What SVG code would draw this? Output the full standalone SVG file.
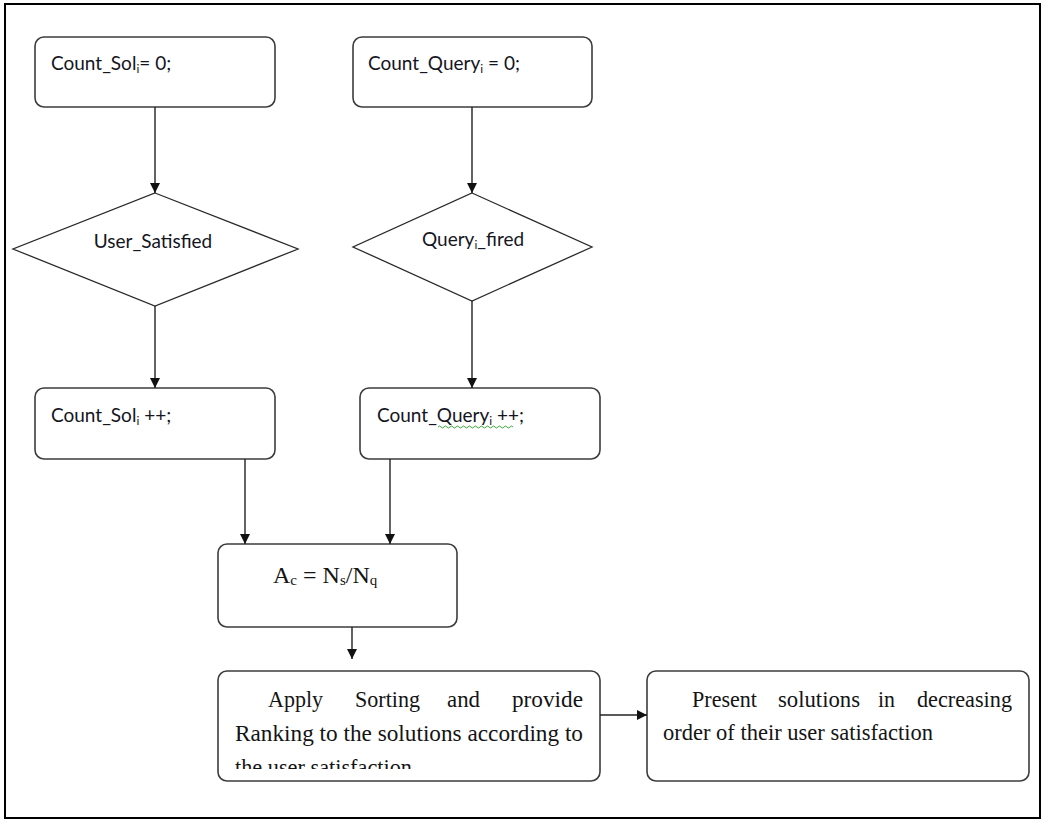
<svg xmlns="http://www.w3.org/2000/svg" width="1045" height="824" viewBox="0 0 1045 824">
  <style>
    .box { fill: #fff; stroke: #3c3c3c; stroke-width: 1.6; }
    .dia { fill: #fff; stroke: #2a2a2a; stroke-width: 1.3; }
    .sans { font-family: Lato, "Open Sans", "Liberation Sans", sans-serif; font-size: 19px; fill: #151522; }
    .sub { font-size: 12px; }
    .serif { font-family: "Liberation Serif", "Times New Roman", serif; font-size: 24px; fill: #141414; }
    .conn line { stroke: #222; stroke-width: 1.4; }
  </style>
  <defs>
    <marker id="arrow" viewBox="0 0 10 10" refX="10" refY="5" markerWidth="10" markerHeight="10" markerUnits="userSpaceOnUse" orient="auto">
      <path d="M0,0 L10,5 L0,10 z" fill="#111"/>
    </marker>
    <clipPath id="clipApply">
      <rect x="218" y="671" width="382" height="98"/>
    </clipPath>
  </defs>

  <rect x="0" y="0" width="1045" height="824" fill="#fff"/>
  <!-- outer frame -->
  <rect x="5" y="4" width="1035" height="814" fill="none" stroke="#000" stroke-width="2"/>

  <g id="count-sol-init">
    <rect class="box" x="35" y="37" width="240" height="70" rx="9"/>
    <text class="sans" x="51" y="70">Count_Sol<tspan class="sub" dy="3">i</tspan><tspan dy="-3">= 0;</tspan></text>
  </g>

  <g id="count-query-init">
    <rect class="box" x="353" y="37" width="239" height="70" rx="9"/>
    <text class="sans" x="368" y="70">Count_Query<tspan class="sub" dy="3">i</tspan><tspan dy="-3"> = 0;</tspan></text>
  </g>

  <g id="user-satisfied">
    <polygon class="dia" points="155,193 298,249 155,306 13,249"/>
    <text class="sans" x="153" y="248" text-anchor="middle">User_Satisfied</text>
  </g>

  <g id="query-fired">
    <polygon class="dia" points="472,193 592,247 472,301 353,247"/>
    <text class="sans" x="422" y="246">Query<tspan class="sub" dy="3">i</tspan><tspan dy="-3">_fired</tspan></text>
  </g>

  <g id="count-sol-inc">
    <rect class="box" x="35" y="388" width="240" height="71" rx="9"/>
    <text class="sans" x="51" y="422">Count_Sol<tspan class="sub" dy="3">i</tspan><tspan dy="-3"> ++;</tspan></text>
  </g>

  <g id="count-query-inc">
    <rect class="box" x="360" y="388" width="240" height="71" rx="9"/>
    <text class="sans" x="377" y="422">Count_Query<tspan class="sub" dy="3">i</tspan><tspan dy="-3"> ++;</tspan></text>
    <path d="M438,427 q1.5,-2 3,0 t3,0 t3,0 t3,0 t3,0 t3,0 t3,0 t3,0 t3,0 t3,0 t3,0 t3,0 t3,0 t3,0 t3,0 t3,0 t3,0 t3,0 t3,0 t3,0 t3,0 t3,0 t3,0 t3,0 t3,0" fill="none" stroke="#3aa63a" stroke-width="1"/>
  </g>

  <g id="accuracy">
    <rect class="box" x="218" y="544" width="239" height="83" rx="9"/>
    <text class="serif" x="273" y="583">A<tspan font-size="15" dy="2">c</tspan><tspan dy="-2"> = N</tspan><tspan font-size="15" dy="2">s</tspan><tspan dy="-2">/N</tspan><tspan font-size="15" dy="2">q</tspan></text>
  </g>

  <g id="apply-sorting">
    <rect class="box" x="218" y="671" width="382" height="110" rx="9"/>
    <g clip-path="url(#clipApply)">
      <text class="serif" x="268" y="707" textLength="55" lengthAdjust="spacingAndGlyphs">Apply</text>
      <text class="serif" x="355" y="707" textLength="65" lengthAdjust="spacingAndGlyphs">Sorting</text>
      <text class="serif" x="447" y="707" textLength="33" lengthAdjust="spacingAndGlyphs">and</text>
      <text class="serif" x="512" y="707" textLength="71" lengthAdjust="spacingAndGlyphs">provide</text>
      <text class="serif" x="235" y="741" textLength="348" lengthAdjust="spacingAndGlyphs">Ranking to the solutions according to</text>
      <text class="serif" x="235" y="775" textLength="177" lengthAdjust="spacingAndGlyphs">the user satisfaction</text>
    </g>
  </g>

  <g id="present-solutions">
    <rect class="box" x="647" y="671" width="382" height="110" rx="9"/>
    <text class="serif" x="692" y="707" textLength="65" lengthAdjust="spacingAndGlyphs">Present</text>
    <text class="serif" x="778" y="707" textLength="82" lengthAdjust="spacingAndGlyphs">solutions</text>
    <text class="serif" x="878" y="707" textLength="17" lengthAdjust="spacingAndGlyphs">in</text>
    <text class="serif" x="917" y="707" textLength="95" lengthAdjust="spacingAndGlyphs">decreasing</text>
    <text class="serif" x="663" y="740" textLength="270" lengthAdjust="spacingAndGlyphs">order of their user satisfaction</text>
  </g>

  <g id="connectors" class="conn">
    <line x1="155" y1="107" x2="155" y2="193" marker-end="url(#arrow)"/>
    <line x1="472" y1="107" x2="472" y2="193" marker-end="url(#arrow)"/>
    <line x1="155" y1="306" x2="155" y2="388" marker-end="url(#arrow)"/>
    <line x1="472" y1="301" x2="472" y2="388" marker-end="url(#arrow)"/>
    <line x1="245" y1="459" x2="245" y2="544" marker-end="url(#arrow)"/>
    <line x1="390" y1="459" x2="390" y2="544" marker-end="url(#arrow)"/>
    <line x1="352" y1="627" x2="352" y2="659" marker-end="url(#arrow)"/>
    <line x1="600" y1="715" x2="647" y2="715" marker-end="url(#arrow)"/>
  </g>
</svg>
